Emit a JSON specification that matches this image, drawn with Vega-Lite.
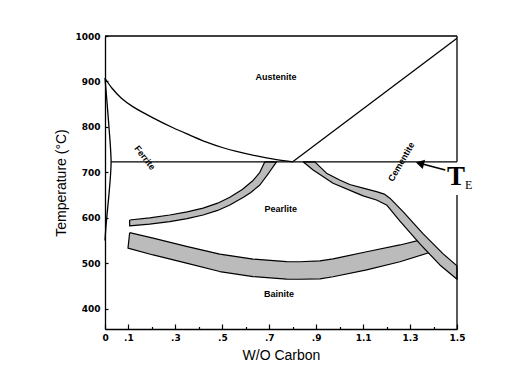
{
  "$schema": "https://vega.github.io/schema/vega-lite/v6.json",
  "width": 352,
  "height": 293,
  "autosize": "none",
  "padding": {"left": 105, "top": 36, "right": 63, "bottom": 61},
  "background": "white",
  "config": {
    "view": {"stroke": null},
    "axis": {"domainColor": "black", "domainWidth": 1.3, "tickColor": "black", "tickWidth": 1.2, "grid": false, "labelFont": "DejaVu Sans", "labelFontWeight": "bold", "labelFontSize": 9, "labelColor": "black", "titleFont": "Liberation Sans", "titleFontSize": 14, "titleFontWeight": "normal", "titleColor": "black"}
  },
  "datasets": {
    "curves": [
      {"s": "A3", "i": 0, "C": 0, "T": 907}, {"s": "A3", "i": 1, "C": 0.03, "T": 885}, {"s": "A3", "i": 2, "C": 0.07, "T": 863}, {"s": "A3", "i": 3, "C": 0.12, "T": 844}, {"s": "A3", "i": 4, "C": 0.219, "T": 816}, {"s": "A3", "i": 5, "C": 0.29, "T": 798}, {"s": "A3", "i": 6, "C": 0.361, "T": 782}, {"s": "A3", "i": 7, "C": 0.43, "T": 767}, {"s": "A3", "i": 8, "C": 0.503, "T": 754}, {"s": "A3", "i": 9, "C": 0.56, "T": 746}, {"s": "A3", "i": 10, "C": 0.646, "T": 736}, {"s": "A3", "i": 11, "C": 0.731, "T": 728}, {"s": "A3", "i": 12, "C": 0.8, "T": 723},
      {"s": "Acm", "i": 0, "C": 0.8, "T": 723}, {"s": "Acm", "i": 1, "C": 1.5, "T": 995},
      {"s": "Eut", "i": 0, "C": 0.026, "T": 723}, {"s": "Eut", "i": 1, "C": 1.5, "T": 723},
      {"s": "Lens", "i": 0, "C": 0, "T": 907}, {"s": "Lens", "i": 1, "C": 0.006, "T": 870}, {"s": "Lens", "i": 2, "C": 0.012, "T": 832}, {"s": "Lens", "i": 3, "C": 0.018, "T": 792}, {"s": "Lens", "i": 4, "C": 0.023, "T": 757}, {"s": "Lens", "i": 5, "C": 0.026, "T": 723}, {"s": "Lens", "i": 6, "C": 0.023, "T": 690}, {"s": "Lens", "i": 7, "C": 0.017, "T": 652}, {"s": "Lens", "i": 8, "C": 0.01, "T": 614}, {"s": "Lens", "i": 9, "C": 0.004, "T": 580}, {"s": "Lens", "i": 10, "C": 0, "T": 550}
    ],
    "bands": [
      {"b": "a", "i": 0, "C": 0.105, "T": 567}, {"b": "a", "i": 1, "C": 0.205, "T": 555}, {"b": "a", "i": 2, "C": 0.347, "T": 537}, {"b": "a", "i": 3, "C": 0.489, "T": 520}, {"b": "a", "i": 4, "C": 0.631, "T": 509}, {"b": "a", "i": 5, "C": 0.774, "T": 503.5}, {"b": "a", "i": 6, "C": 0.83, "T": 503}, {"b": "a", "i": 7, "C": 0.916, "T": 505}, {"b": "a", "i": 8, "C": 0.972, "T": 509.5}, {"b": "a", "i": 9, "C": 1.115, "T": 525}, {"b": "a", "i": 10, "C": 1.257, "T": 540}, {"b": "a", "i": 11, "C": 1.363, "T": 553.5}, {"b": "a", "i": 12, "C": 1.393, "T": 525}, {"b": "a", "i": 13, "C": 1.257, "T": 503}, {"b": "a", "i": 14, "C": 1.115, "T": 485}, {"b": "a", "i": 15, "C": 0.972, "T": 470}, {"b": "a", "i": 16, "C": 0.916, "T": 465.5}, {"b": "a", "i": 17, "C": 0.83, "T": 464.5}, {"b": "a", "i": 18, "C": 0.774, "T": 465}, {"b": "a", "i": 19, "C": 0.631, "T": 470.5}, {"b": "a", "i": 20, "C": 0.489, "T": 481.5}, {"b": "a", "i": 21, "C": 0.347, "T": 500}, {"b": "a", "i": 22, "C": 0.205, "T": 518}, {"b": "a", "i": 23, "C": 0.098, "T": 533}, {"b": "a", "i": 24, "C": 0.105, "T": 567},
      {"b": "b", "i": 0, "C": 0.105, "T": 595}, {"b": "b", "i": 1, "C": 0.19, "T": 599.5}, {"b": "b", "i": 2, "C": 0.276, "T": 606}, {"b": "b", "i": 3, "C": 0.35, "T": 613}, {"b": "b", "i": 4, "C": 0.418, "T": 621}, {"b": "b", "i": 5, "C": 0.48, "T": 632}, {"b": "b", "i": 6, "C": 0.532, "T": 645}, {"b": "b", "i": 7, "C": 0.585, "T": 662}, {"b": "b", "i": 8, "C": 0.631, "T": 682}, {"b": "b", "i": 9, "C": 0.66, "T": 700}, {"b": "b", "i": 10, "C": 0.681, "T": 723}, {"b": "b", "i": 11, "C": 0.731, "T": 723}, {"b": "b", "i": 12, "C": 0.7, "T": 700}, {"b": "b", "i": 13, "C": 0.66, "T": 672}, {"b": "b", "i": 14, "C": 0.62, "T": 655}, {"b": "b", "i": 15, "C": 0.59, "T": 645}, {"b": "b", "i": 16, "C": 0.532, "T": 628}, {"b": "b", "i": 17, "C": 0.48, "T": 616}, {"b": "b", "i": 18, "C": 0.418, "T": 606}, {"b": "b", "i": 19, "C": 0.35, "T": 598}, {"b": "b", "i": 20, "C": 0.276, "T": 591.5}, {"b": "b", "i": 21, "C": 0.19, "T": 586}, {"b": "b", "i": 22, "C": 0.105, "T": 582}, {"b": "b", "i": 23, "C": 0.105, "T": 595},
      {"b": "c", "i": 0, "C": 0.844, "T": 723}, {"b": "c", "i": 1, "C": 0.894, "T": 723}, {"b": "c", "i": 2, "C": 0.944, "T": 698}, {"b": "c", "i": 3, "C": 1.0, "T": 683}, {"b": "c", "i": 4, "C": 1.043, "T": 673}, {"b": "c", "i": 5, "C": 1.1, "T": 665}, {"b": "c", "i": 6, "C": 1.157, "T": 657.5}, {"b": "c", "i": 7, "C": 1.19, "T": 652}, {"b": "c", "i": 8, "C": 1.214, "T": 643}, {"b": "c", "i": 9, "C": 1.271, "T": 612.8}, {"b": "c", "i": 10, "C": 1.356, "T": 564.4}, {"b": "c", "i": 11, "C": 1.441, "T": 520.4}, {"b": "c", "i": 12, "C": 1.5, "T": 494}, {"b": "c", "i": 13, "C": 1.5, "T": 464.7}, {"b": "c", "i": 14, "C": 1.427, "T": 496}, {"b": "c", "i": 15, "C": 1.342, "T": 542.4}, {"b": "c", "i": 16, "C": 1.256, "T": 593}, {"b": "c", "i": 17, "C": 1.2, "T": 628}, {"b": "c", "i": 18, "C": 1.157, "T": 639}, {"b": "c", "i": 19, "C": 1.1, "T": 648}, {"b": "c", "i": 20, "C": 1.072, "T": 654}, {"b": "c", "i": 21, "C": 0.972, "T": 676}, {"b": "c", "i": 22, "C": 0.887, "T": 705}, {"b": "c", "i": 23, "C": 0.844, "T": 723}
    ],
    "frame": [
      {"C": 0, "C2": 1.5, "T": 1000, "T2": 1000},
      {"C": 1.5, "C2": 1.5, "T": 723, "T2": 1000},
      {"C": 1.5, "C2": 1.5, "T": 355, "T2": 650}
    ],
    "labels": [
      {"text": "Austenite", "C": 0.729, "T": 910},
      {"text": "Pearlite", "C": 0.749, "T": 619},
      {"text": "Bainite", "C": 0.741, "T": 432}
    ],
    "ferrite": [{"text": "Ferrite", "C": 0.17, "T": 732}],
    "cementite": [{"text": "Cementite", "C": 1.263, "T": 723}],
    "te": [{"text": "T", "C": 1.4955, "T": 690}],
    "te_sub": [{"text": "E", "C": 1.55, "T": 673}],
    "arrow": [{"C": 1.45, "T": 705, "C2": 1.345, "T2": 719.5}],
    "arrowhead": [{"C": 1.342, "T": 719.5}]
  },
  "encoding": {
    "x": {"field": "C", "type": "quantitative", "scale": {"domain": [0, 1.5], "nice": false, "zero": false},
      "axis": {"title": "W/O Carbon", "values": [0, 0.1, 0.2, 0.3, 0.4, 0.5, 0.6, 0.7, 0.8, 0.9, 1, 1.1, 1.2, 1.3, 1.4, 1.5],
        "tickSize": {"condition": {"test": "round(datum.value*10) % 2 == 1 || datum.value == 0", "value": -5}, "value": -2.5},
        "labelPadding": 9, "labelFlush": false, "labelOverlap": false, "titlePadding": 4,
        "labelExpr": "datum.value == 0 ? '0' : round(datum.value*10) % 2 == 1 ? (datum.value < 1 ? replace(format(datum.value, '.1f'), '0.', '.') : format(datum.value, '.1f')) : ''"}},
    "y": {"field": "T", "type": "quantitative", "scale": {"domain": [355, 1000], "nice": false, "zero": false},
      "axis": {"title": "Temperature (°C)", "values": [400, 500, 600, 700, 800, 900, 1000], "format": "d", "tickSize": -3, "labelPadding": 8, "titlePadding": 6, "labelFlush": false, "labelOverlap": false}}
  },
  "layer": [
    {"data": {"name": "bands"}, "mark": {"type": "line", "interpolate": "linear", "fill": "#bbbbbb", "stroke": "black", "strokeWidth": 1.2, "strokeJoin": "round"},
      "encoding": {"detail": {"field": "b"}, "order": {"field": "i", "type": "quantitative"}}},
    {"data": {"name": "curves"}, "mark": {"type": "line", "interpolate": "catmull-rom", "stroke": "black", "strokeWidth": 1.3},
      "encoding": {"detail": {"field": "s"}, "order": {"field": "i", "type": "quantitative"}}},
    {"data": {"name": "frame"}, "mark": {"type": "rule", "stroke": "black", "strokeWidth": 1.3},
      "encoding": {"x2": {"field": "C2"}, "y2": {"field": "T2"}}},
    {"data": {"name": "arrow"}, "mark": {"type": "rule", "stroke": "black", "strokeWidth": 1.6},
      "encoding": {"x2": {"field": "C2"}, "y2": {"field": "T2"}}},
    {"data": {"name": "arrowhead"}, "mark": {"type": "point", "shape": "triangle-left", "angle": 14, "size": 90, "filled": true, "color": "black", "opacity": 1}},
    {"data": {"name": "labels"}, "mark": {"type": "text", "font": "Liberation Sans", "fontWeight": "bold", "fontSize": 9, "color": "black", "align": "center", "baseline": "middle"},
      "encoding": {"text": {"field": "text"}}},
    {"data": {"name": "ferrite"}, "mark": {"type": "text", "font": "Liberation Sans", "fontWeight": "bold", "fontSize": 9, "color": "black", "align": "center", "baseline": "middle", "angle": 52},
      "encoding": {"text": {"field": "text"}}},
    {"data": {"name": "cementite"}, "mark": {"type": "text", "font": "Liberation Sans", "fontWeight": "bold", "fontSize": 9, "color": "black", "align": "center", "baseline": "middle", "angle": -60},
      "encoding": {"text": {"field": "text"}}},
    {"data": {"name": "te"}, "mark": {"type": "text", "font": "Liberation Serif", "fontWeight": "bold", "fontSize": 27, "color": "black", "align": "center", "baseline": "middle"},
      "encoding": {"text": {"field": "text"}}},
    {"data": {"name": "te_sub"}, "mark": {"type": "text", "font": "Liberation Serif", "fontSize": 12, "color": "black", "align": "center", "baseline": "middle"},
      "encoding": {"text": {"field": "text"}}}
  ]
}
